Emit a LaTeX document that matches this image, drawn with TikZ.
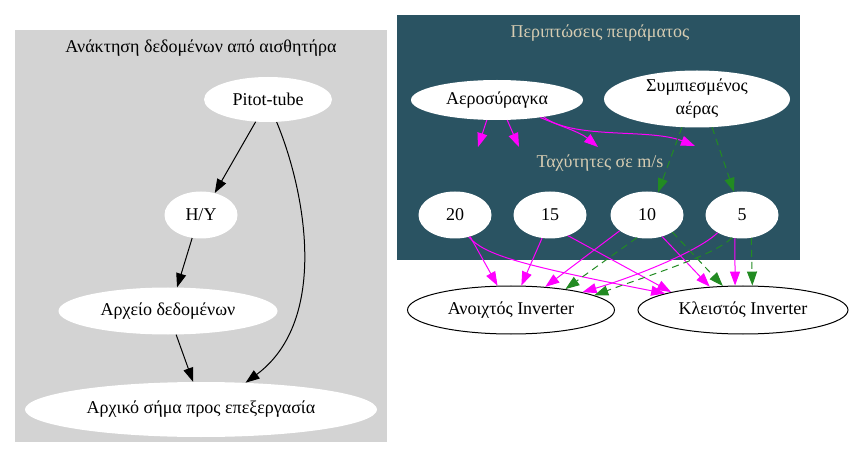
\documentclass[tikz,border=0pt]{standalone}
\usepackage{fontspec}
\setmainfont{Liberation Serif}
\usetikzlibrary{shapes.geometric,arrows.meta}
\definecolor{clustgray}{RGB}{211,211,211}
\definecolor{clustteal}{RGB}{42,83,98}
\definecolor{labeltan}{RGB}{214,204,178}
\definecolor{fgreen}{RGB}{34,139,34}
\definecolor{fmagenta}{RGB}{255,0,255}
\begin{document}
\begin{tikzpicture}[x=1pt, y=-1pt, font=\fontsize{18}{21}\selectfont,
    blob/.style={ellipse, fill=white, inner sep=0pt},
    inv/.style={ellipse, draw=black, line width=1pt, fill=white, minimum width=207pt, minimum height=48pt, inner sep=0pt},
    flow/.style={line width=1pt, -{Triangle[length=14pt,width=10pt]}},
    mag/.style={flow, fmagenta},
    grn/.style={flow, fgreen, dash pattern=on 7pt off 5pt}]
    \fill[white] (0,0) rectangle (852,457);
    \useasboundingbox (0,0) rectangle (852,457);
    % clusters
    \fill[clustgray] (15,30) rectangle (387,442);
    \node (lblsensor) at (201,48) {Ανάκτηση δεδομένων από αισθητήρα};
    \fill[clustteal] (397,15) rectangle (800,260);
    \node[text=labeltan] (lblcases) at (600,33) {Περιπτώσεις πειράματος};
    \node[text=labeltan] (lblspeed) at (600,163) {Ταχύτητες σε m/s};
    % left nodes
    \node[blob, minimum width=128pt, minimum height=45pt] (pitot) at (268,99.5) {Pitot-tube};
    \node[blob, minimum width=73pt, minimum height=47pt] (hy) at (201,215) {H/Y};
    \node[blob, minimum width=219pt, minimum height=47pt] (archeio) at (168,311) {Αρχείο δεδομένων};
    \node[blob, minimum width=352pt, minimum height=55pt] (archiko) at (201,409.5) {Αρχικό σήμα προς επεξεργασία};
    \draw[flow] (pitot.-119) -- (hy.58);
    \draw[flow] (hy.-111) -- (archeio.69);
    \draw[flow] (archeio.-71) -- (archiko.106);
    \draw[flow] (pitot.-69) .. controls (305,190) and (330,320) .. (archiko.31);
    % right nodes
    \node[blob, minimum width=172pt, minimum height=40pt] (aero) at (497,100) {Αεροσύραγκα};
    \node[blob, minimum width=186pt, minimum height=57pt, align=center, font=\fontsize{18}{23}\selectfont] (comp) at (697,99) {Συμπιεσμένος\\αέρας};
    \foreach \v/\x in {20/455, 15/550, 10/647, 5/742}
      \node[blob, minimum width=73pt, minimum height=47pt] (s\v) at (\x,215) {\v};
    \node[inv] (ano) at (511,310) {Ανοιχτός Inverter};
    \node[inv, minimum width=210pt] (kle) at (743,310) {Κλειστός Inverter};
    % edges into the speed group
    \coordinate (t1) at (478,147);
    \coordinate (t2) at (519,147);
    \coordinate (t3) at (598,147);
    \coordinate (t4) at (695,146);
    \draw[mag] (aero.-117) -- (t1);
    \draw[mag] (aero.-63) -- (t2);
    \draw[mag] (aero.-22) .. controls (560,126) and (580,132) .. (t3);
    \draw[mag] (aero.-20) .. controls (575,140) and (650,128) .. (t4);
    \draw[grn] (comp.-118) -- (s10.64);
    \draw[grn] (comp.-62) -- (s5.109);
    % speeds to inverters
    \draw[mag] (s20.-55) -- (ano.119);
    \draw[mag] (s20.-58) .. controls (485,255) and (520,265) .. (kle.168);
    \draw[mag] (s15.-109) -- (ano.67);
    \draw[mag] (s15.-49) -- (kle.166);
    \draw[mag] (s10.-150) -- (ano.34);
    \draw[mag] (s10.-55) -- (kle.145);
    \draw[mag] (s5.-144) .. controls (700,250) and (640,275) .. (ano.14);
    \draw[mag] (s5.-107) -- (kle.108);
    \draw[grn] (s10.-114) -- (ano.21);
    \draw[grn] (s10.-34) -- (kle.130);
    \draw[grn] (s5.-114) .. controls (715,255) and (650,275) .. (ano.10);
    \draw[grn] (s5.-68) -- (kle.69);
\end{tikzpicture}
\end{document}
